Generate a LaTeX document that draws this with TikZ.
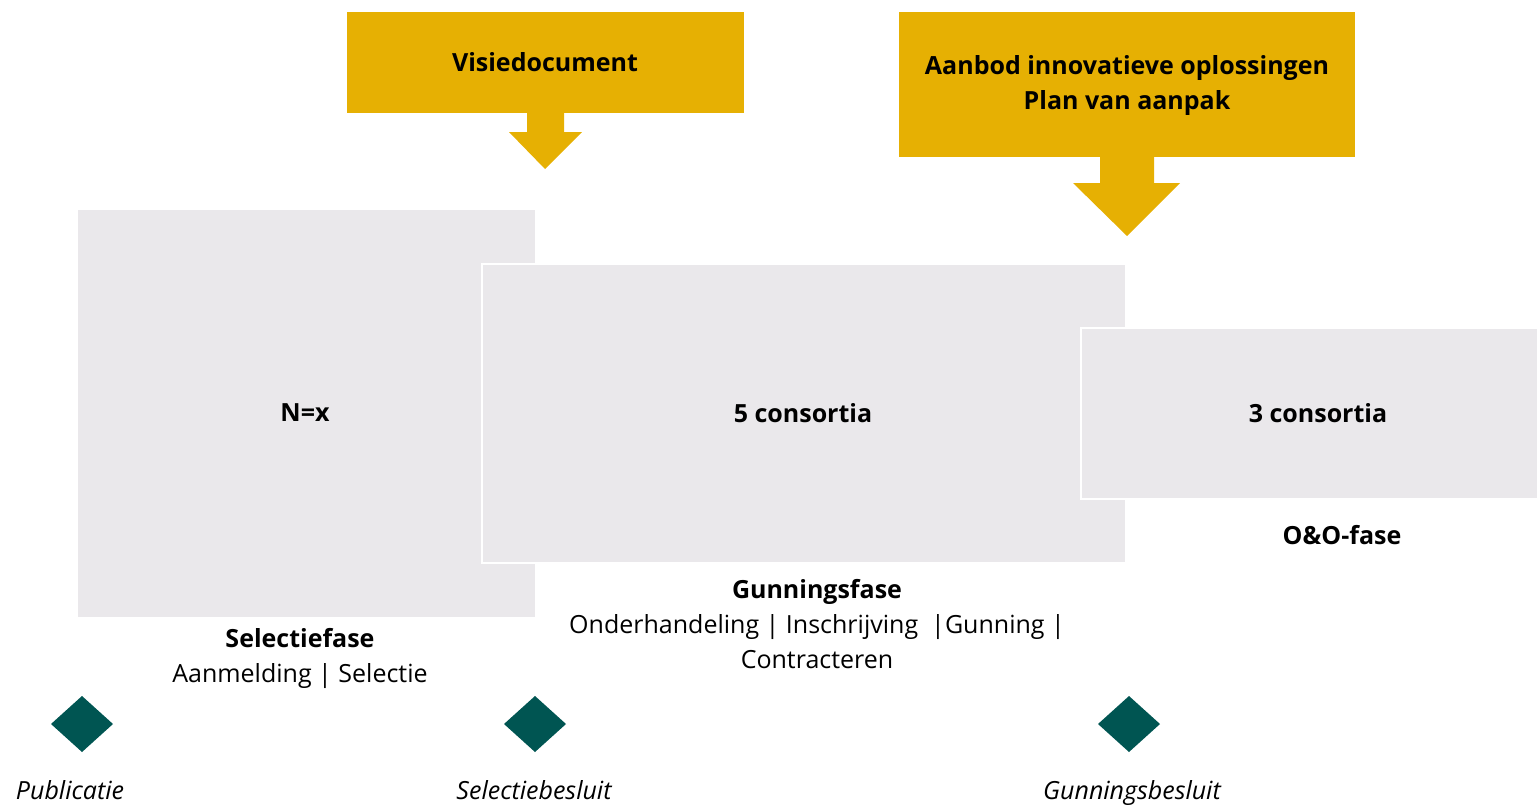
\documentclass[tikz,border=0pt]{standalone}
\usepackage{fontspec}
\setmainfont{Open Sans}
\definecolor{goud}{HTML}{E6B003}
\definecolor{grijs}{HTML}{EAE8EB}
\definecolor{teal}{HTML}{005552}
\tikzset{
  fase/.style={fill=grijs},
  fasewit/.style={fill=grijs,draw=white,line width=2pt},
  blok/.style={fill=goud},
  mijlpaal/.style={fill=teal},
  tekst/.style={font=\fontsize{25}{35}\selectfont,align=center,inner sep=0pt},
  kop/.style={tekst,font=\fontsize{25}{35}\selectfont\bfseries},
  mijltekst/.style={tekst,font=\fontsize{25}{35}\selectfont\itshape,anchor=base}
}
\begin{document}
\begin{tikzpicture}[x=1pt,y=-1pt]
        \useasboundingbox (0,0) rectangle (1537,807);
        % fasen
        \coordinate (A) at (78,210);
        \coordinate (B) at (535,617);
        \coordinate (C) at (482,264);
        \coordinate (D) at (1126,563);
        \coordinate (E) at (1081,328);
        \coordinate (F) at (1540,499);
        \fill[fase] (A) rectangle (B);
        \draw[fasewit] (C) rectangle (D);
        \draw[fasewit] (E) rectangle (F);
        \node[kop] (nx) at (305,413) {N=x};
        \node[kop] (vijf) at (803,413) {5 consortia};
        \node[kop] (drie) at (1318,413) {3 consortia};
        \node[kop] (oo) at (1342,535) {O\&O-fase};
        \node[tekst] (selectie) at (300,658) {\textbf{Selectiefase}\\Aanmelding | Selectie};
        \node[tekst] (gunning) at (817,624) {\textbf{Gunningsfase}\\Onderhandeling | Inschrijving \ |Gunning |\\Contracteren};
        % documenten
        \fill[blok] (347,12) rectangle (744,113);
        \node[kop] (visie) at (545,62) {Visiedocument};
        \fill[goud] (527,112) -- (564,112) -- (564,132) -- (582,132) -- (545,169) -- (509,132) -- (527,132) --cycle ;
        \fill[blok] (899,12) rectangle (1355,157);
        \node[kop] (aanbod) at (1127,85) {Aanbod innovatieve oplossingen\\Plan van aanpak};
        \fill[goud] (1100,156) -- (1154,156) -- (1154,183) -- (1180,183) -- (1127,236) -- (1073,183) -- (1100,183) --cycle ;
        % mijlpalen
        \foreach \x/\naam/\label/\lx in {82/pub/Publicatie/70, 535/sel/Selectiebesluit/534, 1129/gun/Gunningsbesluit/1132} {
          \fill[mijlpaal] (\x-31,724) -- (\x,696) -- (\x+31,724) -- (\x,752) --cycle ;
          \node[mijltekst] (\naam) at (\lx,799) {\label};
        }
        \end{tikzpicture}
\end{document}
